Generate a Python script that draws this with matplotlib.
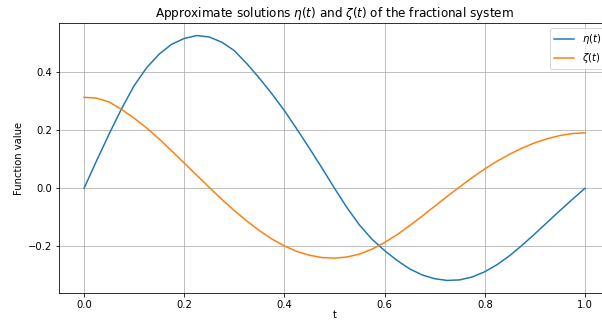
"""
Approximate solutions eta(t) and zeta(t) of the fractional system.
Values read off the reference plot on a 0.025 step in t.
"""

import matplotlib
matplotlib.use('Agg')
import matplotlib.pyplot as plt


# ─────────────────────────────────────────────
# DATA
# ─────────────────────────────────────────────

T = [0.000, 0.025, 0.050, 0.075, 0.100, 0.125, 0.150, 0.175, 0.200, 0.225,
     0.250, 0.275, 0.300, 0.325, 0.350, 0.375, 0.400, 0.425, 0.450, 0.475,
     0.500, 0.525, 0.550, 0.575, 0.600, 0.625, 0.650, 0.675, 0.700, 0.725,
     0.750, 0.775, 0.800, 0.825, 0.850, 0.875, 0.900, 0.925, 0.950, 0.975,
     1.000]

ETA = [0.000, 0.095, 0.187, 0.275, 0.354, 0.416, 0.463, 0.497, 0.517, 0.527,
       0.522, 0.504, 0.475, 0.430, 0.380, 0.326, 0.268, 0.204, 0.138, 0.070,
       0.000, -0.067, -0.127, -0.176, -0.215, -0.249, -0.278, -0.299, -0.312, -0.318,
       -0.316, -0.306, -0.288, -0.263, -0.232, -0.196, -0.157, -0.117, -0.077, -0.038,
       0.000]

ZETA = [0.314, 0.311, 0.298, 0.272, 0.242, 0.208, 0.170, 0.129, 0.087, 0.045,
        0.003, -0.038, -0.077, -0.113, -0.146, -0.175, -0.199, -0.218, -0.231, -0.239,
        -0.241, -0.237, -0.227, -0.210, -0.187, -0.160, -0.129, -0.096, -0.062, -0.028,
        0.005, 0.037, 0.067, 0.094, 0.118, 0.139, 0.157, 0.171, 0.182, 0.189,
        0.191]

LABELS = [r'$\eta(t)$', r'$\zeta(t)$']
TITLE  = r'Approximate solutions $\eta(t)$ and $\zeta(t)$ of the fractional system'


# ─────────────────────────────────────────────
# PLOT
# ─────────────────────────────────────────────

def plot_solutions():
    fig = plt.figure(figsize=(602 / 72, 320 / 72), dpi=72)
    # axes run past the right edge, as in the cropped reference
    ax = fig.add_axes([59 / 602, 27.3 / 320, 551 / 602, 269.4 / 320])

    ax.plot(T, ETA, label=LABELS[0])
    ax.plot(T, ZETA, label=LABELS[1])

    ax.set_title(TITLE)
    ax.set_xlabel('t', labelpad=0)   # keep the label inside the frame
    ax.set_ylabel('Function value')
    ax.grid(True)
    ax.legend(loc='upper right')
    return fig


if __name__ == "__main__":
    fig = plot_solutions()
    fig.savefig('out.png', dpi=72)
